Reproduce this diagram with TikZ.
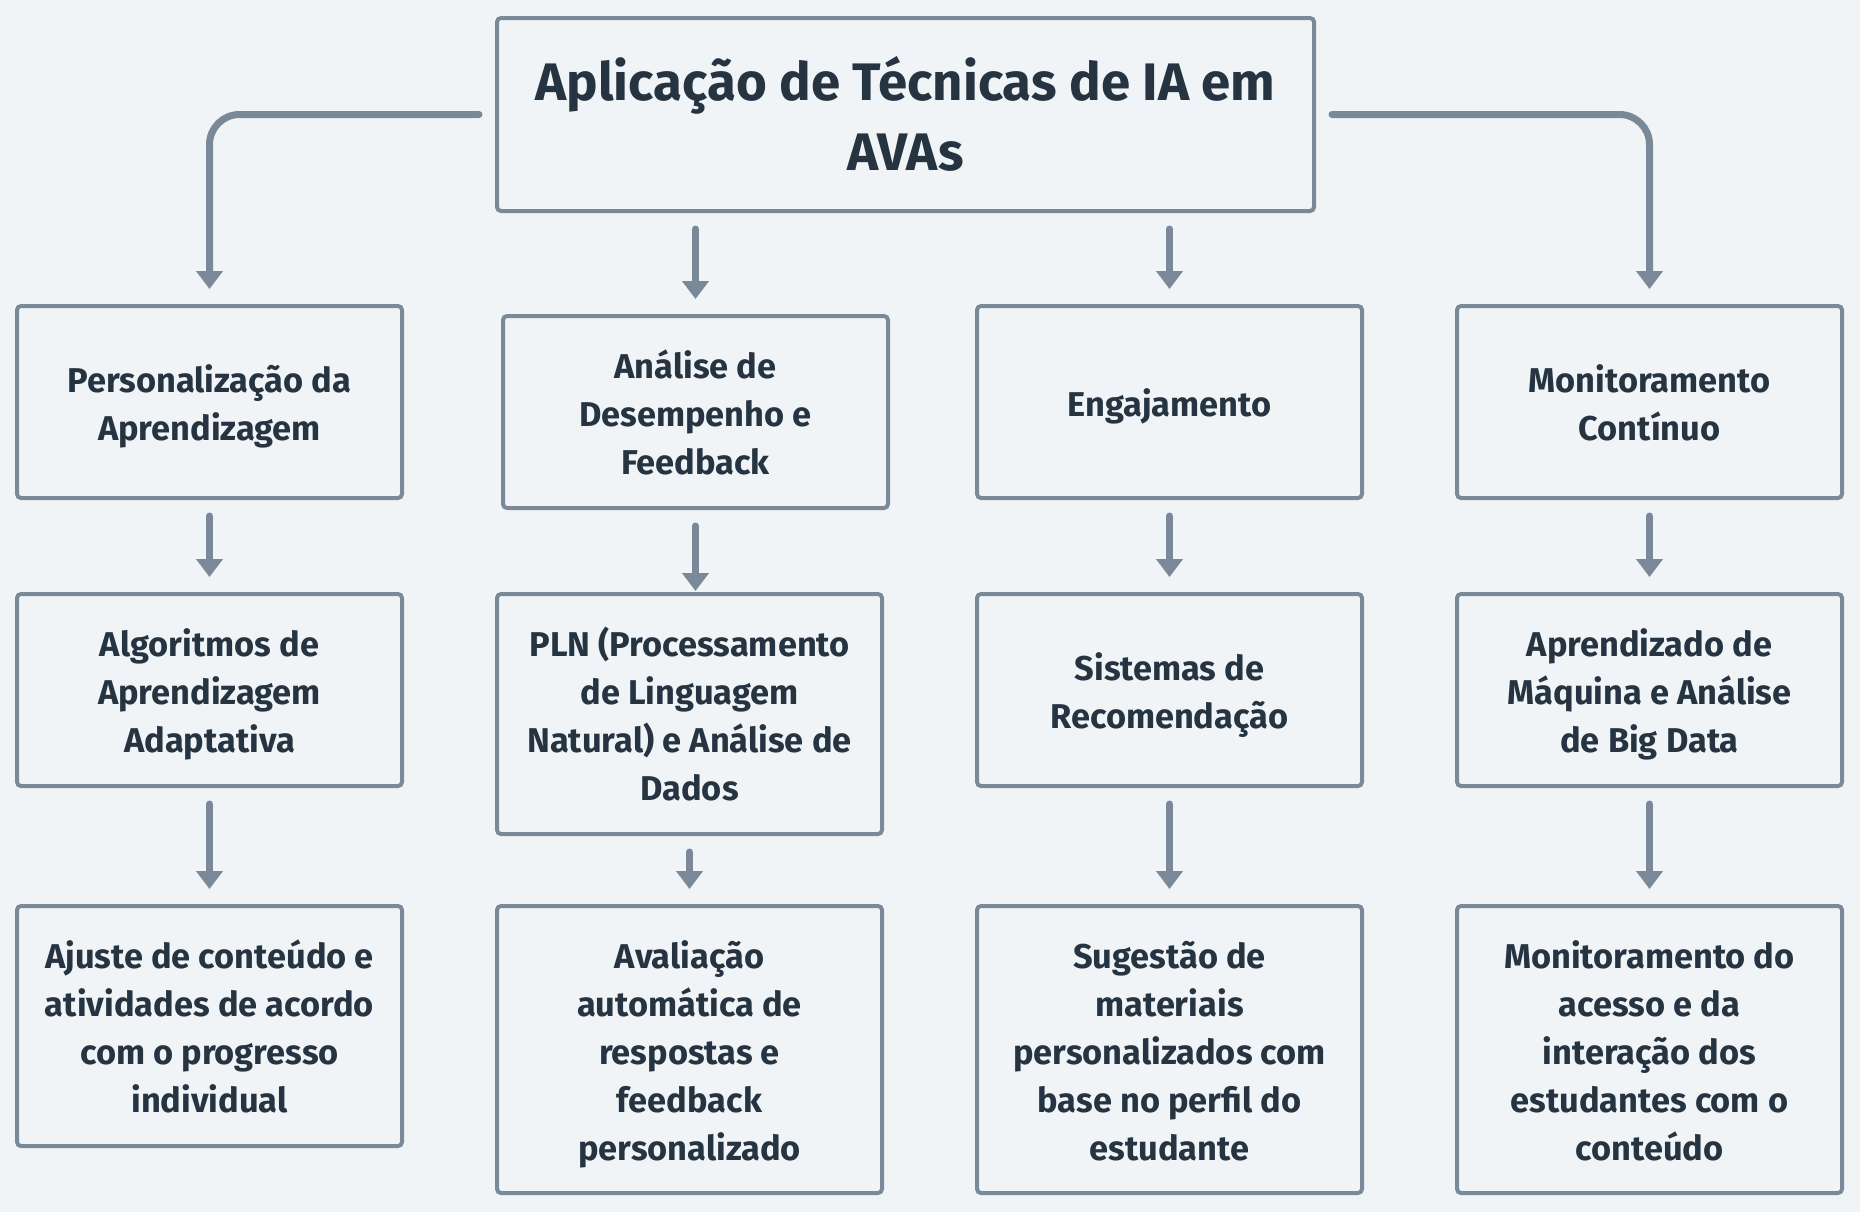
\documentclass[tikz,border=0pt]{standalone}
\usepackage{fontspec}
\setmainfont{Fira Sans}
\usetikzlibrary{arrows.meta}
\definecolor{bgcol}{HTML}{F0F4F7}
\definecolor{linecol}{HTML}{7A8998}
\definecolor{textcol}{HTML}{263442}
% centred lines, nudged so the letters sit in the middle of the box
\newcommand{\boxtxt}[1]{\raisebox{0pt}[\dimexpr\height+0.69em-0.4\baselineskip+3pt\relax][\depth]{%
  \begin{tabular}{@{}c@{}}#1\end{tabular}}}
\begin{document}
\begin{tikzpicture}[x=0.5pt,y=-0.5pt,
  box/.style={draw=linecol,line width=2pt,rounded corners=2pt,fill=bgcol,
    text=textcol,minimum width=192.5pt,
    font=\bfseries\fontsize{17.2}{24}\selectfont},
  link/.style={draw=linecol,line width=3.5pt,line cap=round,
    -{Triangle[width=13pt,length=9pt]},shorten <=8pt,shorten >=7.5pt}]
\useasboundingbox[fill=bgcol] (0,0) rectangle (1860,1212);

% title
\node[box,minimum width=408.5pt,minimum height=96.5pt,
  font=\bfseries\fontsize{26.4}{35}\selectfont] (top) at (905.5,114.5)
  {\boxtxt{Aplicação de Técnicas de IA em\\AVAs}};

% first row
\node[box,minimum height=96pt] (pers) at (209.5,402) {\boxtxt{Personalização da\\Aprendizagem}};
\node[box,minimum height=96pt] (desem) at (695.5,412) {\boxtxt{Análise de\\Desempenho e\\Feedback}};
\node[box,minimum height=96pt] (engaj) at (1169.5,402) {\boxtxt{Engajamento}};
\node[box,minimum height=96pt] (monit) at (1649.5,402) {\boxtxt{Monitoramento\\Contínuo}};

% second row
\node[box,minimum height=96pt] (algo) at (209.5,690) {\boxtxt{Algoritmos de\\Aprendizagem\\Adaptativa}};
\node[box,minimum height=120pt] (pln) at (689.5,714) {\boxtxt{PLN (Processamento\\de Linguagem\\Natural) e Análise de\\Dados}};
\node[box,minimum height=96pt] (recom) at (1169.5,690) {\boxtxt{Sistemas de\\Recomendação}};
\node[box,minimum height=96pt] (aprend) at (1649.5,690) {\boxtxt{Aprendizado de\\Máquina e Análise\\de Big Data}};

% third row
\node[box,minimum height=120pt] (ajuste) at (209.5,1026) {\boxtxt{Ajuste de conteúdo e\\atividades de acordo\\com o progresso\\individual}};
\node[box,minimum height=143.5pt] (aval) at (689.5,1049.5) {\boxtxt{Avaliação\\automática de\\respostas e\\feedback\\personalizado}};
\node[box,minimum height=143.5pt] (suges) at (1169.5,1049.5) {\boxtxt{Sugestão de\\materiais\\personalizados com\\base no perfil do\\estudante}};
\node[box,minimum height=143.5pt] (acesso) at (1649.5,1049.5) {\boxtxt{Monitoramento do\\acesso e da\\interação dos\\estudantes com o\\conteúdo}};

% connectors
\draw[link,rounded corners=15pt] (top.west) -| (pers.north);
\draw[link,rounded corners=15pt] (top.east) -| (monit.north);
\draw[link] (top.south -| desem.north) -- (desem.north);
\draw[link] (top.south -| engaj.north) -- (engaj.north);

\draw[link] (pers) -- (algo);
\draw[link,shorten >=0.5pt] (desem.south) -- (desem.south |- pln.north);
\draw[link] (engaj) -- (recom);
\draw[link] (monit) -- (aprend);

\draw[link] (algo) -- (ajuste);
\draw[link] (pln) -- (aval);
\draw[link] (recom) -- (suges);
\draw[link] (aprend) -- (acesso);
\end{tikzpicture}
\end{document}
